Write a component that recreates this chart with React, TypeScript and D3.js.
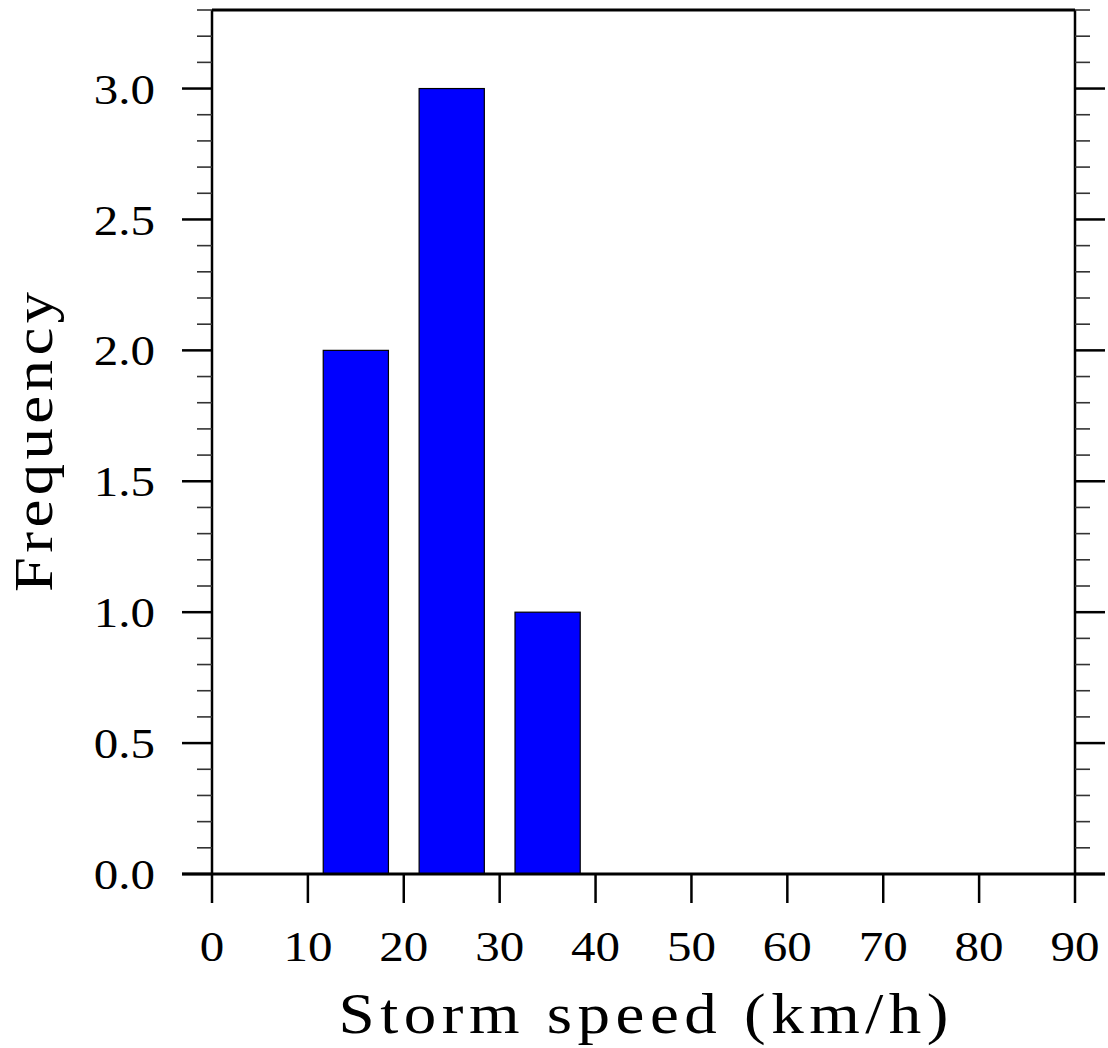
import React from 'react';
import * as d3 from 'd3';

// histogram of storm speeds, bin centres (km/h) and counts
const binCenters = [15, 25, 35];
const binCounts = [2, 3, 1];
const xTickValues = [0, 10, 20, 30, 40, 50, 60, 70, 80, 90];
const yMajorTicks = [0, 0.5, 1.0, 1.5, 2.0, 2.5, 3.0];
const xTitle = 'Storm speed (km/h)';
const yTitle = 'Frequency';

const W = 1108;
const H = 1048;
const margin = { top: 10, right: 33, bottom: 174, left: 212 };
const FONT = '"Liberation Serif", "DejaVu Serif", serif';

export default function App() {
  const innerW = W - margin.left - margin.right;
  const innerH = H - margin.top - margin.bottom;

  const xScale = d3.scaleLinear().domain([0, 90]).range([0, innerW]);
  const yScale = d3.scaleLinear().domain([0, 3.3]).range([innerH, 0]);

  const binWidth = 10;
  const barFrac = 0.68;
  const barW = xScale(binWidth * barFrac) - xScale(0);

  // minor ticks every 0.1 on y
  const yMinor = yScale.ticks(33).filter(t => !yMajorTicks.some(m => Math.abs(m - t) < 1e-6));

  const majorLen = 30;
  const minorLen = 15;
  const sx = 1.14; // the reference glyphs are wider than Times

  return (
    <svg
      width={W}
      height={H}
      style={{ position: 'absolute', left: 0, top: 0, background: '#fff' }}
      fontFamily={FONT}
    >
      <g transform={`translate(${margin.left},${margin.top})`}>
        {/* bars */}
        {binCenters.map((c, i) => (
          <rect
            key={i}
            x={xScale(c) - barW / 2}
            y={yScale(binCounts[i])}
            width={barW}
            height={yScale(0) - yScale(binCounts[i])}
            fill="#0000ff"
            stroke="#000"
            strokeWidth={1.2}
          />
        ))}

        {/* frame */}
        <line x1={0} x2={innerW} y1={0} y2={0} stroke="#000" strokeWidth={3} />
        <line x1={0} x2={0} y1={0} y2={innerH} stroke="#000" strokeWidth={2.5} />
        <line x1={innerW} x2={innerW} y1={0} y2={innerH} stroke="#000" strokeWidth={2.5} />
        {/* zero line, runs across the major ticks on both sides */}
        <line x1={-majorLen} x2={innerW + majorLen} y1={innerH} y2={innerH} stroke="#000" strokeWidth={3} />

        {/* y axis ticks, left and right, outward */}
        {yMinor.map(t => (
          <g key={'m' + t}>
            <line x1={-minorLen} x2={0} y1={yScale(t)} y2={yScale(t)} stroke="#333" strokeWidth={1.6} />
            <line x1={innerW} x2={innerW + minorLen} y1={yScale(t)} y2={yScale(t)} stroke="#333" strokeWidth={1.6} />
          </g>
        ))}
        {yMajorTicks.map(t => (
          <g key={'M' + t}>
            <line x1={-majorLen} x2={0} y1={yScale(t)} y2={yScale(t)} stroke="#000" strokeWidth={2.5} />
            <line x1={innerW} x2={innerW + majorLen} y1={yScale(t)} y2={yScale(t)} stroke="#000" strokeWidth={2.5} />
            <text
              transform={`translate(-57,${yScale(t)}) scale(${sx},1)`}
              dy="0.35em"
              textAnchor="end"
              fontSize={43}
              fill="#000"
            >
              {d3.format('.1f')(t)}
            </text>
          </g>
        ))}

        {/* x axis ticks */}
        {xTickValues.map(t => (
          <g key={'x' + t}>
            <line x1={xScale(t)} x2={xScale(t)} y1={innerH} y2={innerH + 29} stroke="#000" strokeWidth={2.5} />
            <text
              transform={`translate(${xScale(t)},${innerH + 87}) scale(${sx},1)`}
              textAnchor="middle"
              fontSize={43}
              fill="#000"
            >
              {t}
            </text>
          </g>
        ))}

        {/* axis titles */}
        <text
          transform={`translate(${innerW / 2},${innerH + 159}) scale(${sx},1)`}
          textAnchor="middle"
          fontSize={57}
          textLength={610 / sx}
          lengthAdjust="spacing"
          fill="#000"
        >
          {xTitle}
        </text>
        <text
          transform={`translate(${52 - margin.left},${innerH / 2}) rotate(-90) scale(${sx},1)`}
          textAnchor="middle"
          fontSize={55}
          textLength={300 / sx}
          lengthAdjust="spacing"
          fill="#000"
        >
          {yTitle}
        </text>
      </g>
    </svg>
  );
}
